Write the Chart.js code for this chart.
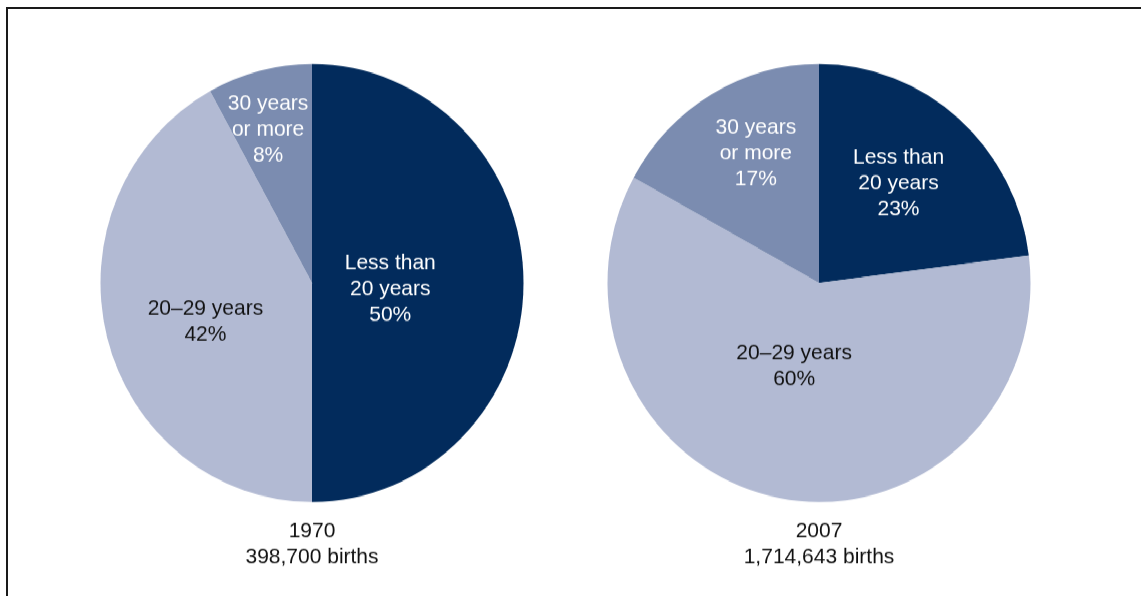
<!DOCTYPE html>
<html>
<head>
<meta charset="utf-8">
<script src="https://cdn.jsdelivr.net/npm/chart.js@4.4.0/dist/chart.umd.min.js"></script>
<style>
  html, body { margin: 0; padding: 0; background: #fff; overflow: hidden; }
  body { width: 1141px; height: 596px; position: relative; }
  .frame {
    position: absolute; left: 6px; top: 7px; right: -10px; bottom: -10px;
    border-top: 2px solid #1a1a1a; border-left: 2px solid #1a1a1a;
  }
  /* pies are slightly taller than wide in the original */
  .stretch {
    position: absolute; left: 0; top: 0; width: 1141px; height: 576px;
    transform: scaleY(1.0355); transform-origin: 0 0;
  }
  .stretch canvas { position: absolute; top: 0; }
  #pie1970 { left: 92px; }
  #pie2007 { left: 599px; }
</style>
</head>
<body>
<div class="frame"></div>
<div class="stretch">
  <canvas id="pie1970" width="440" height="576"></canvas>
  <canvas id="pie2007" width="440" height="576"></canvas>
</div>
<script>
// Data
const categories = ["Less than 20 years", "20–29 years", "30 years or more"];
const labelLines = [["Less than", "20 years"], ["20–29 years"], ["30 years", "or more"]];
const share1970 = [50, 42, 8];
const share2007 = [23, 60, 17];
const years = ["1970", "2007"];
const births = ["398,700 births", "1,714,643 births"];

const FONT = '"Liberation Sans", Arial, Helvetica, sans-serif';
const sliceColors = ["#022b5c", "#b2bad3", "#7b8cb0"];
const textColors = ["#ffffff", "#111111", "#ffffff"];

// Draws the category name and percent inside each slice
const sliceLabels = {
  id: "sliceLabels",
  afterDatasetsDraw(chart, args, opts) {
    const ctx = chart.ctx;
    const meta = chart.getDatasetMeta(0);
    const values = chart.data.datasets[0].data;
    ctx.save();
    ctx.font = opts.size + "px " + FONT;
    ctx.textAlign = "center";
    ctx.textBaseline = "middle";
    meta.data.forEach((arc, i) => {
      const p = arc.getProps(["x", "y", "startAngle", "endAngle", "outerRadius"], true);
      const mid = (p.startAngle + p.endAngle) / 2;
      const r = p.outerRadius * opts.radius[i];
      const cx = p.x + Math.cos(mid) * r + opts.nudge[i][0];
      const cy = p.y + Math.sin(mid) * r + opts.nudge[i][1];
      const lines = [...labelLines[i], values[i] + "%"];
      ctx.fillStyle = textColors[i];
      lines.forEach((t, k) => {
        ctx.fillText(t, cx, cy + (k - (lines.length - 1) / 2) * opts.lineHeight);
      });
    });
    ctx.restore();
  }
};

function makePie(id, values, year, caption, labelRadius, nudge) {
  return new Chart(document.getElementById(id), {
    type: "pie",
    data: {
      labels: categories,
      datasets: [{
        data: values,
        backgroundColor: sliceColors,
        borderWidth: 0,
        hoverOffset: 0
      }]
    },
    options: {
      responsive: false,
      animation: false,
      layout: { padding: { top: 61.8, bottom: 25.7, left: 0, right: 0 } },
      plugins: {
        legend: { display: false },
        tooltip: { enabled: false },
        title: {
          display: true,
          position: "bottom",
          text: [year, caption],
          color: "#111111",
          font: { family: FONT, size: 21, weight: "normal", lineHeight: "25px" },
          padding: { top: 15.5, bottom: 0 }
        },
        sliceLabels: { radius: labelRadius, nudge: nudge, size: 21, lineHeight: 25 }
      }
    },
    plugins: [sliceLabels]
  });
}

makePie("pie1970", share1970, years[0], births[0], [0.37, 0.53, 0.74], [[0, 6], [2, 10], [-5, 3]]);
makePie("pie2007", share2007, years[1], births[1], [0.59, 0.40, 0.67], [[-3, -2], [-9, -3], [9, -3]]);
</script>
</body>
</html>
